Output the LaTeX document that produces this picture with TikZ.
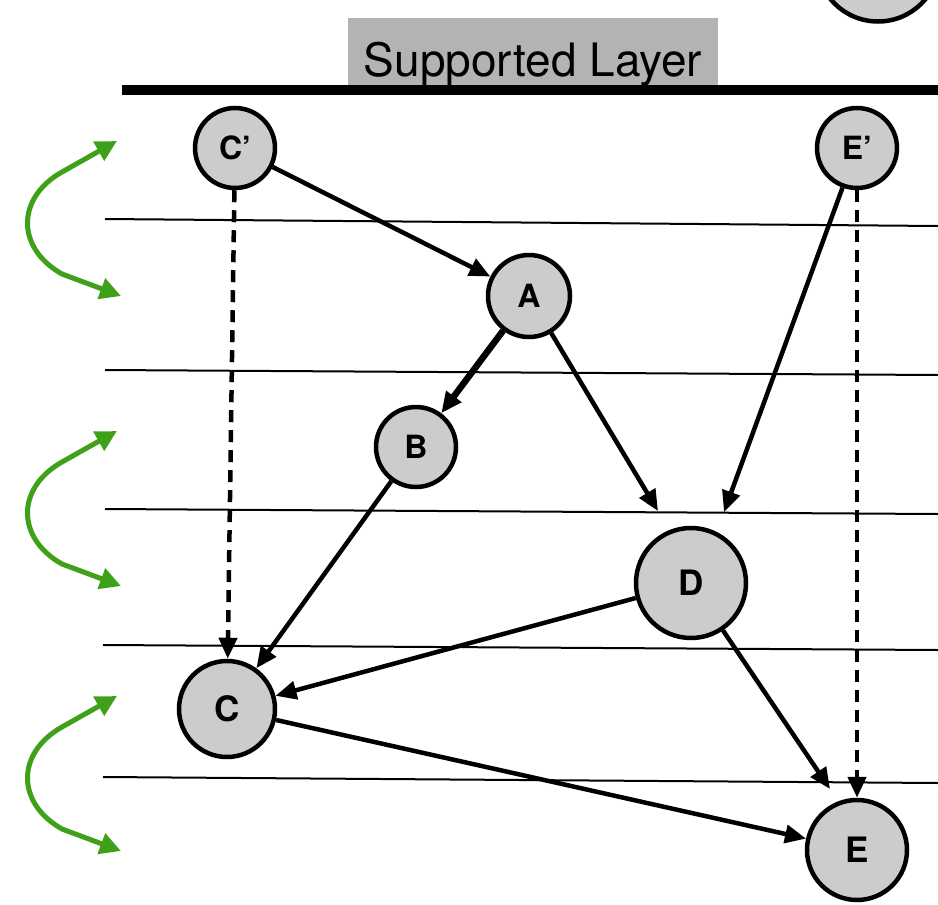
\documentclass[tikz,border=0pt]{standalone}
\usepackage{fontspec}
\setmainfont{TeX Gyre Heros}
\usetikzlibrary{arrows.meta}
\definecolor{nodegray}{HTML}{CCCCCC}
\definecolor{labelgray}{HTML}{B3B3B3}
\definecolor{swapgreen}{HTML}{3FA11A}
\begin{document}
\begin{tikzpicture}[x=1pt,y=-1pt,
  vnode/.style={circle,draw=black,fill=nodegray,line width=4.5pt,inner sep=0pt,
    font=\fontsize{32}{32}\selectfont\bfseries},
  bignode/.style={vnode,font=\fontsize{35}{35}\selectfont\bfseries},
  edge/.style={line width=4.5pt,-{Triangle[length=21pt,width=18pt]}},
  dashedge/.style={edge,dash pattern=on 12pt off 8pt},
  layerline/.style={line width=2pt},
  swap/.style={draw=swapgreen,line width=5pt,line join=round,{Triangle[length=21pt,width=21pt]}-{Triangle[length=21pt,width=21pt]}}
]
\useasboundingbox (0,0) rectangle (938,905);

% layer lines
\draw[layerline] (105,219) -- (938,226);
\draw[layerline] (105,370) -- (938,375);
\draw[layerline] (105,509) -- (938,514);
\draw[layerline] (103,645) -- (938,650);
\draw[layerline] (103,777) -- (938,783);

% label and top line
\node[fill=labelgray,minimum width=370pt,minimum height=77pt,inner sep=0pt,
  text height=39pt,text depth=0pt,font=\fontsize{46}{46}\selectfont] (label) at (533,56.5) {Supported Layer};
\draw[line width=10pt] (122,90) -- (938,90);

% nodes
\node[vnode,minimum size=123pt] (top) at (878,-40) {};
\node[vnode,minimum size=80pt] (Cp) at (235,148) {C’};
\node[vnode,minimum size=80pt] (Ep) at (857,148) {E’};
\node[vnode,minimum size=82pt] (A) at (529,296) {A};
\node[vnode,minimum size=80pt] (B) at (416,447) {B};
\node[bignode,minimum size=110pt] (D) at (691,583) {D};
\node[bignode,minimum size=96pt] (C) at (227,709) {C};
\node[bignode,minimum size=100pt] (E) at (857,850) {E};

% free arrow ends
\coordinate (dA) at (658,511);
\coordinate (dE) at (724,512);
\coordinate (eD) at (830,789);

% edges
\draw[edge] (Cp) -- (A);
\draw[edge,line width=6.5pt] (A) -- (B);
\draw[edge] (A) -- (dA);
\draw[edge] (Ep) -- (dE);
\draw[edge] (B) -- (C);
\draw[edge] (D) -- (C);
\draw[edge] (C) -- (E);
\draw[edge] (D) -- (eD);
\draw[dashedge] (Cp) -- (C);
\draw[dashedge] (Ep) -- (E);

% green swap arrows
\coordinate (s1a) at (117,141); \coordinate (s1b) at (121,296);
\coordinate (s2a) at (117,431); \coordinate (s2b) at (121,586);
\coordinate (s3a) at (117,696); \coordinate (s3b) at (121,851);
\draw[swap] (s1a) -- (62,172) .. controls (16,198) and (16,248) .. (62,274) -- (s1b);
\draw[swap] (s2a) -- (62,462) .. controls (16,488) and (16,538) .. (62,564) -- (s2b);
\draw[swap] (s3a) -- (62,727) .. controls (16,753) and (16,803) .. (62,829) -- (s3b);
\end{tikzpicture}
\end{document}
